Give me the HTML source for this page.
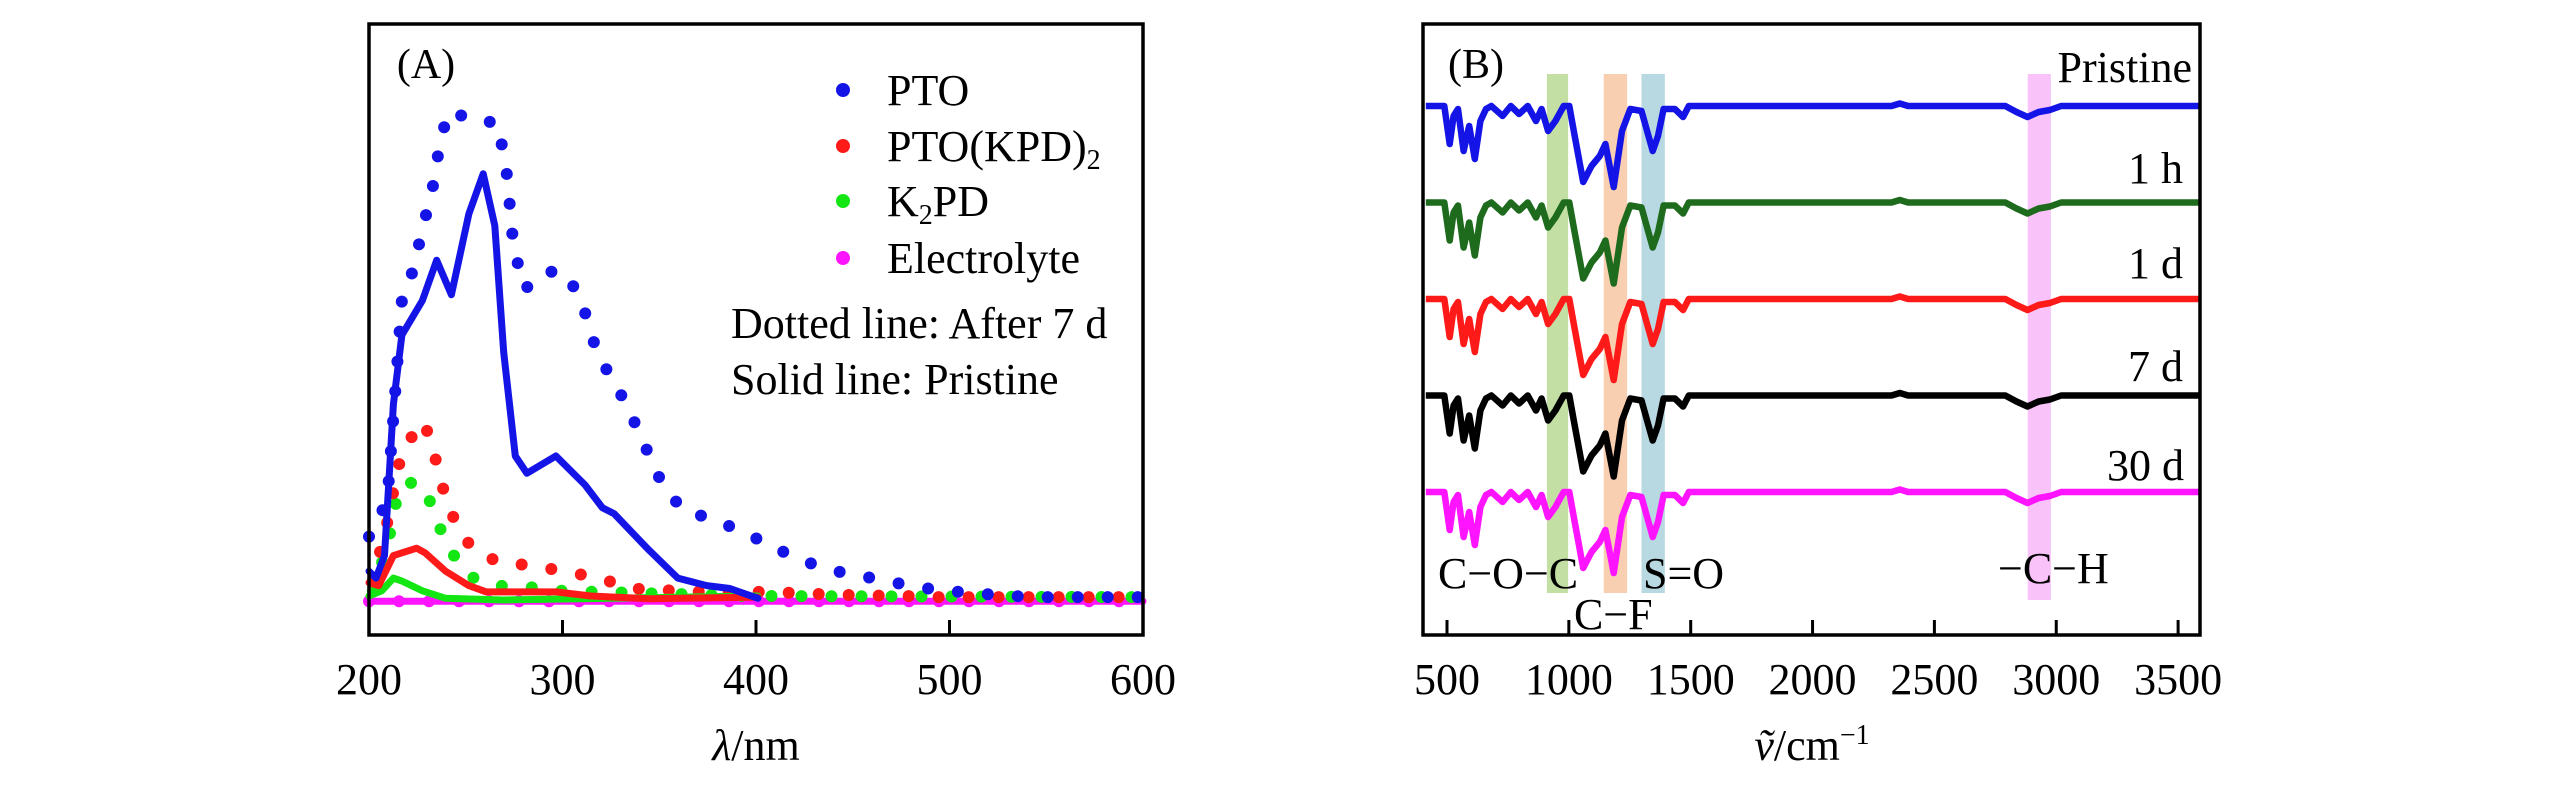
<!DOCTYPE html>
<html><head><meta charset="utf-8"><style>
html,body{margin:0;padding:0;background:#fff;}
svg, svg text{display:block;font-family:"Liberation Serif","Times New Roman",serif;}
</style></head><body>
<svg id="fig" width="2567" height="787" viewBox="0 0 2567 787" xmlns="http://www.w3.org/2000/svg" font-family="Liberation Serif, serif">
<g id="pa"></g>
<g id="pb"></g>
</svg>
<script>
// ---------- Panel A data ----------
const ptoSolidX=[200,203.6,208,212.6,217,227.6,235,242.6,251.6,259,265,269.6,275.6,281.6,296.6,311.6,320.6,326.6,344.6,359.6,374.5,386.5,401];
const ptoSolidY=[0.05,0.038,0.077,0.34,0.46,0.52,0.59,0.53,0.67,0.74,0.65,0.43,0.25,0.22,0.25,0.20,0.16,0.15,0.087,0.038,0.025,0.02,0.003];
const ptoDotX=[200,203.6,209.6,217,222.5,226.7,231,234.5,236.6,242,254.6,266,270,272.4,273,275.6,280.6,290.6,301,310,314.6,321,329,337,343.6,351,362,378,395.5,410.5,426,443,460,478,494.5,512.5,530.5,548.5,566,584,600];
const ptoDotY=[0.11,0.125,0.18,0.52,0.57,0.63,0.69,0.74,0.80,0.85,0.83,0.83,0.77,0.71,0.66,0.60,0.54,0.57,0.57,0.52,0.46,0.41,0.365,0.31,0.26,0.205,0.156,0.14,0.115,0.089,0.066,0.049,0.038,0.026,0.017,0.012,0.007,0.005,0.005,0.005,0.005];
const kpdSolidX=[200,205,212.6,224.6,229,239.6,251.6,260.6,296.6,314.6,344.6,401];
const kpdSolidY=[0.03,0.025,0.077,0.09,0.082,0.05,0.025,0.014,0.014,0.007,0.002,0.005];
const kpdDotX=[202,211,214,219,228.5,234,237.6,244,253,266.6,283,301,319,335.6,353.6,371.6,404.5,422.5,440.5,476.5,494.5,600];
const kpdDotY=[0.033,0.156,0.22,0.27,0.31,0.25,0.20,0.14,0.09,0.066,0.06,0.05,0.038,0.02,0.017,0.014,0.014,0.012,0.009,0.007,0.005,0.005];
const k2pdSolidX=[200,206.6,212.6,217,227.6,239.6,269.6,401];
const k2pdSolidY=[0.007,0.016,0.038,0.033,0.016,0.003,0,0.007];
const k2pdDotX=[202,209.6,214,218.6,228,234,240,251.6,263.6,281.6,299.6,317.6,398.5,600];
const k2pdDotY=[0.016,0.095,0.17,0.205,0.20,0.15,0.095,0.042,0.025,0.023,0.016,0.014,0.007,0.005];
const elecX=[200,600];
const elecY=[-0.002,-0.002];
const aTicks=[200,300,400,500,600];
const legendLabels=["PTO","PTO(KPD)","K","Electrolyte"];
// ---------- Panel B data ----------
const irWaven=[413,489,511,527,545,568,591,614,637,660,682,728,762,796,831,865,888,915,945,979,1002,1024,1059,1093,1127,1150,1184,1218,1252,1298,1344,1366,1389,1435,1469,1492,2324,2358,2392,2791,2837,2882,2928,2974,3020,3592];
const irDepth=[0,0,38,10,3,45,20,53,15,3,0,10,0,8,0,15,3,25,15,0,0,30,76,60,50,38,81,25,3,5,45,30,3,3,11,0,0,-2.5,0,0,6,11,6,4,0,0];
const irSeriesNames=["Pristine","1 h","1 d","7 d","30 d"];
const irOffsets=[0,1,2,3,4];
const irScale=[1,1,1,1,1];
const irColors=["#1414e6","#1e6b1e","#ff1a1a","#000000","#ff14ff"];
const bTicks=[500,1000,1500,2000,2500,3000,3500];
const bands=[[910,997,"#c3dfa3"],[1143,1239,"#f9cfb2"],[1298,1394,"#b9d9e2"],[2883,2978,"#f9c2f9"]];

const NS="http://www.w3.org/2000/svg";
const FF='Liberation Serif, Times New Roman, serif';
function mk(tag,attrs,parent){const e=document.createElementNS(NS,tag);for(const k in attrs)e.setAttribute(k,attrs[k]);if(tag==='text')e.setAttribute('font-family',FF);parent.appendChild(e);return e;}
// Panel A axes
const AL=369,AR=1143,AT=24,AB=635;
const ax=v=>AL+(v-200)/400*(AR-AL);
const ay=v=>600-v*576;
const pa=document.getElementById('pa');
function pathA(xs,ys,color,dotted,name){
  let d='';for(let i=0;i<xs.length;i++)d+=(i?'L':'M')+ax(xs[i]).toFixed(1)+','+ay(ys[i]).toFixed(1);
  const p=mk('path',{d:d,fill:'none',stroke:color,'stroke-width':dotted?12:7,'stroke-linecap':'round','stroke-linejoin':'round'},pa);
  if(dotted)p.setAttribute('stroke-dasharray','0 30');
  
  
}
pathA(elecX,elecY,'#ff14ff',false,'electrolyte-solid-line');
pathA(elecX,elecY,'#ff14ff',true,'electrolyte-dotted-line');
pathA(k2pdDotX,k2pdDotY,'#14e614',true,'k2pd-dotted-line');
pathA(kpdDotX,kpdDotY,'#ff1a1a',true,'pto-kpd2-dotted-line');
pathA(ptoDotX,ptoDotY,'#1414e6',true,'pto-dotted-line');
pathA(k2pdSolidX,k2pdSolidY,'#14e614',false,'k2pd-solid-line');
pathA(kpdSolidX,kpdSolidY,'#ff1a1a',false,'pto-kpd2-solid-line');
pathA(ptoSolidX,ptoSolidY,'#1414e6',false,'pto-solid-line');
let fr=mk('rect',{x:AL,y:AT,width:AR-AL,height:AB-AT,fill:'none',stroke:'#000','stroke-width':3.5},pa);


aTicks.forEach(t=>{
  const l=mk('line',{x1:ax(t),x2:ax(t),y1:AB,y2:AB-15,stroke:'#000','stroke-width':3},pa);
  
  
  const tx=mk('text',{x:ax(t),y:694,'font-size':44,'text-anchor':'middle'},pa);tx.textContent=t;
  
  
});
let xl=mk('text',{x:756,y:760,'font-size':44,'text-anchor':'middle'},pa);
xl.innerHTML='<tspan font-style="italic">λ</tspan>/nm';


let la=mk('text',{x:426,y:78,'font-size':42,'text-anchor':'middle'},pa);la.textContent='(A)';


const legColors=['#1414e6','#ff1a1a','#14e614','#ff14ff'];
const legY=[90,146,201,258];
for(let i=0;i<4;i++){
  const c=mk('circle',{cx:843,cy:legY[i],r:7,fill:legColors[i]},pa);
  
  
  const t=mk('text',{x:887,y:legY[i]+15,'font-size':44},pa);
  if(i===1)t.innerHTML='PTO(KPD)<tspan font-size="28" dy="8">2</tspan>';
  else if(i===2)t.innerHTML='K<tspan font-size="28" dy="8">2</tspan><tspan dy="-8">PD</tspan>';
  else t.textContent=legendLabels[i];
  
  
}
let n1=mk('text',{x:731,y:338,'font-size':44},pa);n1.textContent='Dotted line: After 7 d';


let n2=mk('text',{x:731,y:394,'font-size':44},pa);n2.textContent='Solid line: Pristine';



// Panel B
const BL=1423,BR=2200,BT=24,BB=635;
const bx=v=>1447+(v-500)*0.2437;
const pb=document.getElementById('pb');
bands.forEach((b,i)=>{
  const r=mk('rect',{x:bx(b[0]),y:74,width:bx(b[1])-bx(b[0]),height:(i===3?600:593)-74,fill:b[2]},pb);
  
  
});
irOffsets.forEach((o,s)=>{
  const base=106+o*96.5;
  let d='';for(let i=0;i<irWaven.length;i++)d+=(i?'L':'M')+Math.max(BL,bx(irWaven[i])).toFixed(1)+','+(base+irDepth[i]*irScale[s]).toFixed(1);
  const p=mk('path',{d:d,fill:'none',stroke:irColors[s],'stroke-width':6.5,'stroke-linejoin':'round'},pb);
  
  
});
let fb=mk('rect',{x:BL,y:BT,width:BR-BL,height:BB-BT,fill:'none',stroke:'#000','stroke-width':3.5},pb);


bTicks.forEach(t=>{
  const l=mk('line',{x1:bx(t),x2:bx(t),y1:BB,y2:BB-15,stroke:'#000','stroke-width':3},pb);
  
  
  const tx=mk('text',{x:bx(t),y:694,'font-size':44,'text-anchor':'middle'},pb);tx.textContent=t;
  
  
});
let xb=mk('text',{x:1812,y:760,'font-size':44,'text-anchor':'middle'},pb);
xb.innerHTML='<tspan font-style="italic">ṽ</tspan>/cm<tspan font-size="28" dy="-16">−1</tspan>';


let lb=mk('text',{x:1476,y:78,'font-size':42,'text-anchor':'middle'},pb);lb.textContent='(B)';


const sLabY=[82,183,278,381,480];
const sLabX=[2192,2183,2183,2183,2184];
irSeriesNames.forEach((n,i)=>{
  const t=mk('text',{x:sLabX[i],y:sLabY[i],'font-size':44,'text-anchor':'end'},pb);t.textContent=n;
  
  
});
const ann=[["C−O−C",1438,588],["C−F",1574,629],["S=O",1643,588],["−C−H",1998,583]];
ann.forEach(a=>{
  const t=mk('text',{x:a[1],y:a[2],'font-size':44},pb);t.textContent=a[0];
  
  
});
</script>
</body></html>
